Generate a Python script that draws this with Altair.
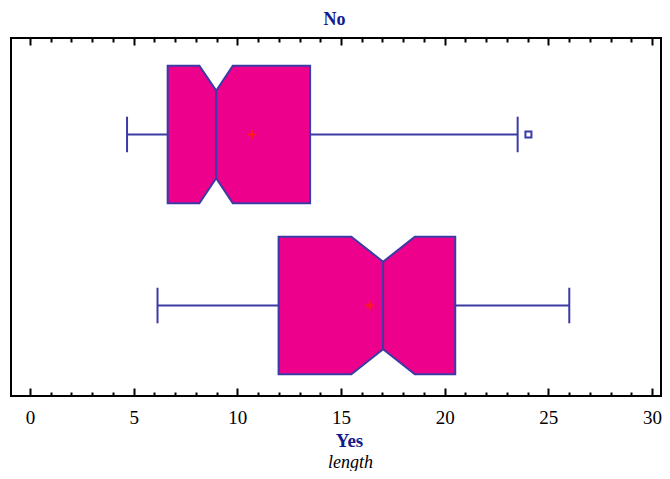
import altair as alt
import pandas as pd

# ---- data ----
groups = ["No", "Yes"]
q1 = [6.64, 11.99]
median = [8.98, 17.03]
q3 = [13.51, 20.51]
notch_lo = [8.17, 15.50]
notch_hi = [9.78, 18.56]
whisker_lo = [4.68, 6.15]
whisker_hi = [23.52, 26.01]
means = [10.70, 16.39]
outlier_group = ["No"]
outlier_value = [24.04]

major_ticks = [0, 5, 10, 15, 20, 25, 30]
minor_ticks = [v for v in range(0, 31) if v % 5]

# ---- styling / geometry constants ----
BOX_H = 0.402
NOTCH_H = 0.256
CAP_H = 0.104
X_DOMAIN = [-0.9164, 30.434]
Y_DOMAIN = [-0.529, 1.564]
PINK = "#EC008C"
BLUE = "#3b3ba6"
NAVY = "#141a8c"
RED = "#ff1a1a"
FONT = "Liberation Serif"

n = len(groups)
ypos = {g: n - 1 - i for i, g in enumerate(groups)}

poly_rows, whisk_rows, cap_rows, med_rows, mean_rows = [], [], [], [], []
for i, g in enumerate(groups):
    yc = ypos[g]
    xs = [q1[i], notch_lo[i], median[i], notch_hi[i], q3[i]]
    hs = [BOX_H, BOX_H, NOTCH_H, BOX_H, BOX_H]
    for xv, hv in zip(xs, hs):
        poly_rows.append({"group": g, "x": xv, "top": yc + hv, "bot": yc - hv})
    whisk_rows.append({"group": g, "x": whisker_lo[i], "x2": q1[i], "y": yc})
    whisk_rows.append({"group": g, "x": q3[i], "x2": whisker_hi[i], "y": yc})
    for wv in (whisker_lo[i], whisker_hi[i]):
        cap_rows.append({"group": g, "x": wv, "y": yc - CAP_H, "y2": yc + CAP_H})
    med_rows.append({"group": g, "x": median[i], "y": yc - NOTCH_H, "y2": yc + NOTCH_H})
    mean_rows.append({"group": g, "x": means[i], "y": yc})

out_rows = [{"group": g, "x": v, "y": ypos[g]} for g, v in zip(outlier_group, outlier_value)]

poly = pd.DataFrame(poly_rows)
whisk = pd.DataFrame(whisk_rows)
caps = pd.DataFrame(cap_rows)
meds = pd.DataFrame(med_rows)
mns = pd.DataFrame(mean_rows)
outs = pd.DataFrame(out_rows)

xs_ = alt.Scale(domain=X_DOMAIN, nice=False, zero=False)
ys_ = alt.Scale(domain=Y_DOMAIN, nice=False, zero=False)

common_axis = dict(domain=False, grid=False, tickColor="black", tickWidth=2)

ax_major_bottom = alt.Axis(
    orient="bottom", values=major_ticks, offset=-8, tickSize=8,
    labelFont=FONT, labelFontSize=19, labelColor="black",
    labelBaseline="alphabetic", labelPadding=27, labelFlush=False, labelOverlap=False,
    title="length", titleFont=FONT, titleFontSize=18, titleFontStyle="italic",
    titleFontWeight="normal", titleColor="black", titleX=339, titleY=79,
    titleBaseline="alphabetic", titleAlign="center", **common_axis)
ax_minor_bottom = alt.Axis(
    orient="bottom", values=minor_ticks, offset=-4, tickSize=4, labels=False,
    title="Yes", titleFont=FONT, titleFontSize=19, titleFontWeight="bold",
    titleColor=NAVY, titleX=338, titleY=54, titleBaseline="alphabetic",
    titleAlign="center", **common_axis)
ax_major_top = alt.Axis(
    orient="top", values=major_ticks, offset=-7, tickSize=7, labels=False,
    title="No", titleFont=FONT, titleFontSize=18, titleFontWeight="bold",
    titleColor=NAVY, titleX=323, titleY=-21, titleBaseline="alphabetic",
    titleAlign="center", **common_axis)
ax_minor_top = alt.Axis(orient="top", values=minor_ticks, offset=-4, tickSize=4,
                        labels=False, title=None, **common_axis)

whiskers = alt.Chart(whisk).mark_rule(color=BLUE, strokeWidth=2).encode(
    x=alt.X("x:Q", scale=xs_, axis=ax_major_top),
    x2="x2:Q",
    y=alt.Y("y:Q", scale=ys_, axis=None),
)

boxes = alt.Chart(poly).mark_area(
    color=PINK, fillOpacity=1, opacity=1, stroke=BLUE, strokeWidth=2,
    strokeJoin="miter", orient="vertical"
).encode(
    x=alt.X("x:Q", scale=xs_, axis=ax_major_bottom),
    y=alt.Y("top:Q", scale=ys_, axis=None, stack=False),
    y2="bot:Q",
    detail="group:N",
)

med_rule = alt.Chart(meds).mark_rule(color=BLUE, strokeWidth=2).encode(
    x=alt.X("x:Q", scale=xs_, axis=ax_minor_bottom),
    y=alt.Y("y:Q", scale=ys_, axis=None),
    y2="y2:Q",
)

cap_rule = alt.Chart(caps).mark_rule(color=BLUE, strokeWidth=2).encode(
    x=alt.X("x:Q", scale=xs_, axis=ax_minor_top),
    y=alt.Y("y:Q", scale=ys_, axis=None),
    y2="y2:Q",
)

mean_pt = alt.Chart(mns).mark_point(
    shape="M-1,0H1M0,-1V1", size=81, filled=False, stroke=RED, strokeWidth=2, opacity=1
).encode(
    x=alt.X("x:Q", scale=xs_, axis=None),
    y=alt.Y("y:Q", scale=ys_, axis=None),
)

out_pt = alt.Chart(outs).mark_point(
    shape="square", size=36, filled=False, stroke=BLUE, strokeWidth=2, opacity=1
).encode(
    x=alt.X("x:Q", scale=xs_, axis=None),
    y=alt.Y("y:Q", scale=ys_, axis=None),
)

chart = alt.layer(
    whiskers, boxes, med_rule, cap_rule, mean_pt, out_pt
).resolve_axis(x="independent").properties(
    width=650,
    height=358,
    background="white",
    autosize=alt.AutoSizeParams(type="none"),
    padding={"left": 3, "top": 30, "right": 1, "bottom": 75},
).configure_view(stroke="black", strokeWidth=2)

chart.save("out.html", embed_options={"renderer": "svg", "actions": False})
